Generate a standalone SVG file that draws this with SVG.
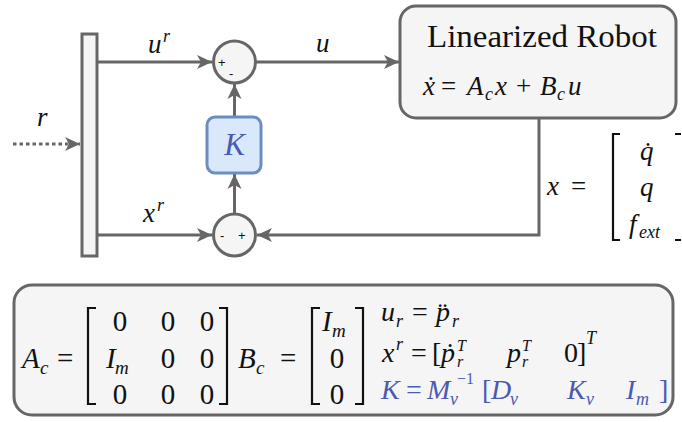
<svg xmlns="http://www.w3.org/2000/svg" id="dg" width="682" height="422" viewBox="0 0 682 422">
<style>
svg#dg g text.m{font-family:'Liberation Serif',serif !important;font-style:italic !important}
svg#dg g text.n{font-family:'Liberation Serif',serif !important;font-style:normal !important}
svg#dg g text.s{font-family:'Liberation Sans',sans-serif !important;font-size:13px}
.ln{stroke:#666;stroke-width:3;fill:none}
.nd{fill:#f5f5f5;stroke:#666;stroke-width:3}
.br{stroke:#111;stroke-width:2.2;fill:none}
</style>
<defs>
<marker id="ar" markerUnits="userSpaceOnUse" markerWidth="16" markerHeight="16" refX="15" refY="8" orient="auto">
<path d="M0,1 L15,8 L0,15 L4,8 Z" fill="#666"/>
</marker>
</defs>
<g id="connectors">
<line class="ln" x1="13" y1="144" x2="80" y2="144" stroke-dasharray="3.5,3" marker-end="url(#ar)"/>
<line class="ln" x1="97" y1="62" x2="212" y2="62" marker-end="url(#ar)"/>
<line class="ln" x1="97" y1="235" x2="212" y2="235" marker-end="url(#ar)"/>
<line class="ln" x1="256" y1="62" x2="399" y2="62" marker-end="url(#ar)"/>
<line class="ln" x1="234.5" y1="117" x2="234.5" y2="84" marker-end="url(#ar)"/>
<line class="ln" x1="234.5" y1="214" x2="234.5" y2="174" marker-end="url(#ar)"/>
<polyline class="ln" points="539,118 539,235 257,235" marker-end="url(#ar)"/>
</g>
<g id="bar"><rect class="nd" x="82" y="34" width="15" height="222"/></g>
<g id="sum-top" fill="#111">
<circle class="nd" cx="234.5" cy="62" r="21"/>
<text class="s" x="218" y="67" style="font-family:'Liberation Sans',sans-serif;font-size:13px">+</text>
<text class="s" x="229" y="78" style="font-family:'Liberation Sans',sans-serif;font-size:13px">-</text>
</g>
<g id="sum-bottom" fill="#111">
<circle class="nd" cx="234.5" cy="235" r="21"/>
<text class="s" x="220" y="240" style="font-family:'Liberation Sans',sans-serif;font-size:13px">-</text>
<text class="s" x="238" y="240" style="font-family:'Liberation Sans',sans-serif;font-size:13px">+</text>
</g>
<g id="K">
<rect x="207" y="117" width="54" height="56" rx="8" fill="#dae8fc" stroke="#6c8ebf" stroke-width="3"/>
<text class="m" x="234.5" y="155" fill="#4a5ab0" text-anchor="middle" font-size="31" style="font-family:'Liberation Serif',serif;font-style:italic">K</text>
</g>
<g id="robot" fill="#111">
<rect class="nd" x="400" y="6" width="276" height="112" rx="16"/>
<text class="n" x="427" y="47" font-size="31" textLength="230" lengthAdjust="spacingAndGlyphs" style="font-family:'Liberation Serif',serif">Linearized Robot</text>
<text class="m" x="423" y="95" font-size="27" style="font-family:'Liberation Serif',serif;font-style:italic">ẋ</text>
<text class="n" x="441" y="95" font-size="27" style="font-family:'Liberation Serif',serif">=</text>
<text class="m" x="467" y="95" font-size="27" style="font-family:'Liberation Serif',serif;font-style:italic">A</text>
<text class="m" x="485" y="100" font-size="18" style="font-family:'Liberation Serif',serif;font-style:italic">c</text>
<text class="m" x="495" y="95" font-size="27" style="font-family:'Liberation Serif',serif;font-style:italic">x</text>
<text class="n" x="516" y="95" font-size="27" style="font-family:'Liberation Serif',serif">+</text>
<text class="m" x="540" y="95" font-size="27" style="font-family:'Liberation Serif',serif;font-style:italic">B</text>
<text class="m" x="557" y="100" font-size="18" style="font-family:'Liberation Serif',serif;font-style:italic">c</text>
<text class="m" x="568" y="95" font-size="27" style="font-family:'Liberation Serif',serif;font-style:italic">u</text>
</g>
<g id="labels" fill="#111">
<text class="m" x="37" y="126" font-size="27" style="font-family:'Liberation Serif',serif;font-style:italic">r</text>
<text class="m" x="148" y="53" font-size="27" style="font-family:'Liberation Serif',serif;font-style:italic">u</text>
<text class="m" x="163" y="42" font-size="18" style="font-family:'Liberation Serif',serif;font-style:italic">r</text>
<text class="m" x="143" y="222" font-size="27" style="font-family:'Liberation Serif',serif;font-style:italic">x</text>
<text class="m" x="157" y="211" font-size="18" style="font-family:'Liberation Serif',serif;font-style:italic">r</text>
<text class="m" x="316" y="52" font-size="27" style="font-family:'Liberation Serif',serif;font-style:italic">u</text>
<text class="m" x="547" y="195" font-size="27" style="font-family:'Liberation Serif',serif;font-style:italic">x</text>
<text class="n" x="571" y="195" font-size="27" style="font-family:'Liberation Serif',serif">=</text>
</g>
<g id="x-vector" fill="#111">
<path class="br" d="M620,134 H613 V240 H620 M675,134 H681 M675,240 H681"/>
<text class="m" x="640" y="160" font-size="27" style="font-family:'Liberation Serif',serif;font-style:italic">q̇</text>
<text class="m" x="640" y="196" font-size="27" style="font-family:'Liberation Serif',serif;font-style:italic">q</text>
<text class="m" x="629" y="233" font-size="27" style="font-family:'Liberation Serif',serif;font-style:italic">f</text>
<text class="m" x="639" y="238" font-size="18" style="font-family:'Liberation Serif',serif;font-style:italic">ext</text>
</g>
<g id="equations" fill="#111">
<rect class="nd" x="14" y="285" width="659" height="130" rx="18"/>
<path class="br" d="M96,308 H88 V404 H96 M219,308 H227 V404 H219 M320,308 H312 V404 H320 M355,308 H363 V404 H355"/>
<text class="m" x="22" y="368" font-size="29" style="font-family:'Liberation Serif',serif;font-style:italic">A</text>
<text class="m" x="40" y="374" font-size="19" style="font-family:'Liberation Serif',serif;font-style:italic">c</text>
<text class="n" x="57" y="368" font-size="29" style="font-family:'Liberation Serif',serif">=</text>
<text class="n" x="120" y="331" font-size="29" text-anchor="middle" style="font-family:'Liberation Serif',serif">0</text>
<text class="n" x="168" y="331" font-size="29" text-anchor="middle" style="font-family:'Liberation Serif',serif">0</text>
<text class="n" x="207" y="331" font-size="29" text-anchor="middle" style="font-family:'Liberation Serif',serif">0</text>
<text class="m" x="106" y="368" font-size="29" style="font-family:'Liberation Serif',serif;font-style:italic">I</text>
<text class="m" x="115" y="374" font-size="19" style="font-family:'Liberation Serif',serif;font-style:italic">m</text>
<text class="n" x="168" y="368" font-size="29" text-anchor="middle" style="font-family:'Liberation Serif',serif">0</text>
<text class="n" x="207" y="368" font-size="29" text-anchor="middle" style="font-family:'Liberation Serif',serif">0</text>
<text class="n" x="120" y="404" font-size="29" text-anchor="middle" style="font-family:'Liberation Serif',serif">0</text>
<text class="n" x="168" y="404" font-size="29" text-anchor="middle" style="font-family:'Liberation Serif',serif">0</text>
<text class="n" x="207" y="404" font-size="29" text-anchor="middle" style="font-family:'Liberation Serif',serif">0</text>
<text class="m" x="238" y="368" font-size="29" style="font-family:'Liberation Serif',serif;font-style:italic">B</text>
<text class="m" x="256" y="374" font-size="19" style="font-family:'Liberation Serif',serif;font-style:italic">c</text>
<text class="n" x="280" y="368" font-size="29" style="font-family:'Liberation Serif',serif">=</text>
<text class="m" x="322" y="331" font-size="29" style="font-family:'Liberation Serif',serif;font-style:italic">I</text>
<text class="m" x="332" y="337" font-size="19" style="font-family:'Liberation Serif',serif;font-style:italic">m</text>
<text class="n" x="337" y="368" font-size="29" text-anchor="middle" style="font-family:'Liberation Serif',serif">0</text>
<text class="n" x="337" y="404" font-size="29" text-anchor="middle" style="font-family:'Liberation Serif',serif">0</text>
<text class="m" x="381" y="321" font-size="28" style="font-family:'Liberation Serif',serif;font-style:italic">u</text>
<text class="m" x="396" y="327" font-size="18" style="font-family:'Liberation Serif',serif;font-style:italic">r</text>
<text class="n" x="412" y="321" font-size="28" style="font-family:'Liberation Serif',serif">=</text>
<text class="m" x="436" y="321" font-size="28" style="font-family:'Liberation Serif',serif;font-style:italic">p̈</text>
<text class="m" x="452" y="327" font-size="18" style="font-family:'Liberation Serif',serif;font-style:italic">r</text>
<text class="m" x="382" y="362" font-size="28" style="font-family:'Liberation Serif',serif;font-style:italic">x</text>
<text class="m" x="396" y="350" font-size="18" style="font-family:'Liberation Serif',serif;font-style:italic">r</text>
<text class="n" x="411" y="362" font-size="28" style="font-family:'Liberation Serif',serif">=</text>
<text class="n" x="432" y="362" font-size="28" style="font-family:'Liberation Serif',serif">[</text>
<text class="m" x="441" y="362" font-size="28" style="font-family:'Liberation Serif',serif;font-style:italic">ṗ</text>
<text class="m" x="457" y="351" font-size="16" style="font-family:'Liberation Serif',serif;font-style:italic">T</text>
<text class="m" x="457" y="367" font-size="16" style="font-family:'Liberation Serif',serif;font-style:italic">r</text>
<text class="m" x="507" y="362" font-size="28" style="font-family:'Liberation Serif',serif;font-style:italic">p</text>
<text class="m" x="522" y="351" font-size="16" style="font-family:'Liberation Serif',serif;font-style:italic">T</text>
<text class="m" x="522" y="367" font-size="16" style="font-family:'Liberation Serif',serif;font-style:italic">r</text>
<text class="n" x="564" y="362" font-size="28" style="font-family:'Liberation Serif',serif">0</text>
<text class="n" x="577" y="362" font-size="28" style="font-family:'Liberation Serif',serif">]</text>
<text class="m" x="586" y="344" font-size="18" style="font-family:'Liberation Serif',serif;font-style:italic">T</text>
<g fill="#4a5ab0">
<text class="m" x="381" y="399" font-size="28" style="font-family:'Liberation Serif',serif;font-style:italic">K</text>
<text class="n" x="406" y="399" font-size="28" style="font-family:'Liberation Serif',serif">=</text>
<text class="m" x="427" y="399" font-size="28" style="font-family:'Liberation Serif',serif;font-style:italic">M</text>
<text class="m" x="450" y="405" font-size="18" style="font-family:'Liberation Serif',serif;font-style:italic">v</text>
<text class="n" x="457" y="384" font-size="16" style="font-family:'Liberation Serif',serif">−1</text>
<text class="n" x="482" y="399" font-size="28" style="font-family:'Liberation Serif',serif">[</text>
<text class="m" x="491" y="399" font-size="28" style="font-family:'Liberation Serif',serif;font-style:italic">D</text>
<text class="m" x="510" y="405" font-size="18" style="font-family:'Liberation Serif',serif;font-style:italic">v</text>
<text class="m" x="567" y="399" font-size="28" style="font-family:'Liberation Serif',serif;font-style:italic">K</text>
<text class="m" x="586" y="405" font-size="18" style="font-family:'Liberation Serif',serif;font-style:italic">v</text>
<text class="m" x="626" y="399" font-size="28" style="font-family:'Liberation Serif',serif;font-style:italic">I</text>
<text class="m" x="636" y="405" font-size="18" style="font-family:'Liberation Serif',serif;font-style:italic">m</text>
<text class="n" x="659" y="399" font-size="28" style="font-family:'Liberation Serif',serif">]</text>
</g>
</g>
</svg>
